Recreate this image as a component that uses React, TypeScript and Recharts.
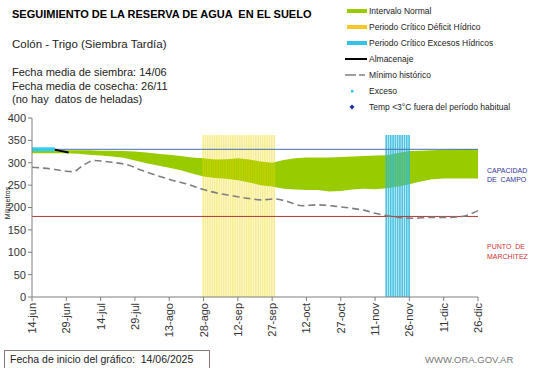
import { ComposedChart, Area, Bar, Line, XAxis, YAxis, ReferenceLine } from "recharts";

// days counted from 14-jun
const xTickDays = [0, 15, 30, 45, 60, 75, 90, 105, 120, 135, 150, 165, 180, 195];
const xTickLabels = ["14-jun", "29-jun", "14-jul", "29-jul", "13-ago", "28-ago", "12-sep", "27-sep", "12-oct", "27-oct", "11-nov", "26-nov", "11-dic", "26-dic"];
const yTicks = [0, 50, 100, 150, 200, 250, 300, 350, 400];

const bandDays = [0, 5, 10, 15, 20, 25, 30, 35, 40, 45, 50, 55, 60, 65, 70, 75, 80, 85, 90, 95, 100, 105, 110, 115, 120, 125, 130, 135, 140, 145, 150, 155, 160, 165, 170, 175, 180, 185, 190, 195];
const bandUpper = [331, 330, 329, 328, 328, 328, 327, 327, 326, 325, 323, 320, 318, 315, 312, 310, 307, 308, 310, 307, 303, 300, 306, 310, 312, 312, 312, 313, 314, 315, 316, 317, 322, 326, 327, 328, 329, 330, 331, 331];
const bandLower = [321, 321, 321, 321, 320, 318, 316, 314, 311, 305, 299, 294, 289, 283, 276, 269, 266, 264, 261, 256, 250, 247, 242, 240, 239, 239, 236, 237, 240, 242, 241, 243, 247, 252, 258, 263, 265, 265, 265, 265];

const minDays = [0, 5, 10, 15, 18, 22, 27, 35, 42, 48, 55, 62, 68, 75, 82, 90, 95, 100, 106, 112, 118, 125, 132, 140, 146, 150, 155, 160, 166, 175, 182, 188, 195];
const minValues = [290, 288, 285, 281, 280, 293, 305, 301, 295, 283, 271, 260, 252, 240, 231, 224, 220, 217, 219, 213, 204, 206, 203, 198, 193, 187, 182, 178, 176, 178, 178, 180, 193];

const almDays = [0, 5, 10, 13, 16];
const almValues = [330, 330, 329, 326, 323];

const excesoDays = [0, 10];
const excesoValues = [330, 330];

const deficitDays = [75, 76, 77, 78, 79, 80, 81, 82, 83, 84, 85, 86, 87, 88, 89, 90, 91, 92, 93, 94, 95, 96, 97, 98, 99, 100, 101, 102, 103, 104, 105, 106];
const excesoCritDays = [155, 156, 157, 158, 159, 160, 161, 162, 163, 164, 165];
const criticalTop = 362;

const capacidad = 330;
const marchitez = 180;

const rows = new Map<number, any>();
const put = (d: number, k: string, v: any) => {
  const r = rows.get(d) ?? { day: d };
  r[k] = v;
  rows.set(d, r);
};
bandDays.forEach((d, i) => put(d, "band", [bandLower[i], bandUpper[i]]));
minDays.forEach((d, i) => put(d, "min", minValues[i]));
almDays.forEach((d, i) => put(d, "alm", almValues[i]));
excesoDays.forEach((d, i) => put(d, "exceso", excesoValues[i]));
deficitDays.forEach((d) => put(d, "deficit", criticalTop));
excesoCritDays.forEach((d) => put(d, "excCrit", criticalTop));
const data = [...rows.values()].sort((a, b) => a.day - b.day);

const font = "Arial, 'Liberation Sans', sans-serif";
const pre = { whiteSpace: "pre" as const };

function DateTick({ x, y, payload }: any) {
  const i = xTickDays.indexOf(payload.value);
  return (
    <text
      x={0}
      y={0}
      transform={`translate(${x + 4},${y}) rotate(-90)`}
      textAnchor="end"
      fontSize={11}
      fill="#333"
      fontFamily={font}
    >
      {xTickLabels[i]}
    </text>
  );
}

function LegendBox() {
  const tx = 369;
  const items = [
    { y: 11, label: "Intervalo Normal" },
    { y: 27, label: "Periodo Crítico Déficit Hídrico" },
    { y: 43, label: "Periodo Crítico Excesos Hídricos" },
    { y: 59, label: "Almacenaje" },
    { y: 75, label: "Mínimo histórico" },
    { y: 91, label: "Exceso" },
    { y: 107, label: "Temp <3°C fuera del período habitual" },
  ];
  return (
    <svg width={541} height={120} style={{ position: "absolute", left: 0, top: 0 }}>
      <rect x={347} y={9} width={20} height={4} fill="#99cc00" />
      <rect x={347} y={25} width={20} height={4} fill="#f7c72a" />
      <rect x={347} y={41} width={20} height={4} fill="#33c3e8" />
      <line x1={345} x2={367} y1={59} y2={59} stroke="#000" strokeWidth={2} />
      <line x1={345} x2={356} y1={75} y2={75} stroke="#808080" strokeWidth={1.5} />
      <line x1={359} x2={365} y1={75} y2={75} stroke="#808080" strokeWidth={1.5} />
      <rect x={351} y={90} width={2.5} height={2.5} fill="#33c3e8" />
      <polygon points="352,104.5 354.5,107 352,109.5 349.5,107" fill="#1f2f9f" />
      {items.map((it) => (
        <text key={it.label} x={tx} y={it.y + 3} fontSize={8.5} fill="#222" fontFamily={font}>
          {it.label}
        </text>
      ))}
    </svg>
  );
}

export default function App() {
  return (
    <div
      style={{
        position: "absolute",
        left: 0,
        top: 0,
        width: 541,
        height: 368,
        background: "#fff",
        fontFamily: font,
        overflow: "hidden",
      }}
    >
      <ComposedChart
        width={541}
        height={368}
        data={data}
        margin={{ top: 118, right: 63, bottom: 0, left: 2 }}
      >
        <XAxis
          dataKey="day"
          type="number"
          domain={[0, 195]}
          ticks={xTickDays}
          interval={0}
          height={71}
          tickSize={4}
          tickMargin={2}
          stroke="#7f7f7f"
          tick={<DateTick />}
        />
        <YAxis
          type="number"
          domain={[0, 400]}
          ticks={yTicks}
          interval={0}
          width={30}
          tickSize={4}
          tickMargin={2}
          stroke="#7f7f7f"
          tick={{ fontSize: 11, fill: "#333", fontFamily: font }}
        />
        <Area
          dataKey="band"
          type="linear"
          fill="#99cc00"
          fillOpacity={1}
          stroke="none"
          connectNulls
          isAnimationActive={false}
        />
        <Bar dataKey="deficit" stackId="crit" fill="#f0d800" fillOpacity={0.45} barSize={1.7} isAnimationActive={false} />
        <Bar dataKey="excCrit" stackId="crit" fill="#2bb8dc" fillOpacity={0.85} barSize={1.2} isAnimationActive={false} />
        <ReferenceLine y={capacidad} stroke="#4a6fb5" strokeWidth={1} />
        <ReferenceLine y={marchitez} stroke="#b03a3a" strokeWidth={1} />
        <Line
          dataKey="min"
          type="monotone"
          stroke="#7f7f7f"
          strokeWidth={1.6}
          strokeDasharray="7 4"
          dot={false}
          connectNulls
          isAnimationActive={false}
        />
        <Line dataKey="alm" type="linear" stroke="#000" strokeWidth={2} dot={false} connectNulls isAnimationActive={false} />
        <Line dataKey="exceso" type="linear" stroke="#33ccee" strokeWidth={4} dot={false} connectNulls isAnimationActive={false} />
      </ComposedChart>

      <svg width={541} height={368} style={{ position: "absolute", left: 0, top: 0, pointerEvents: "none" }}>
        <text x={12} y={18} fontSize={11} fontWeight="bold" fill="#000" fontFamily={font} style={pre}>
          SEGUIMIENTO DE LA RESERVA DE AGUA  EN EL SUELO
        </text>
        <text x={12} y={48} fontSize={11.5} fill="#222" fontFamily={font}>
          Colón - Trigo (Siembra Tardía)
        </text>
        <text x={12} y={76} fontSize={11} fill="#222" fontFamily={font}>
          Fecha media de siembra: 14/06
        </text>
        <text x={12} y={90} fontSize={11} fill="#222" fontFamily={font}>
          Fecha media de cosecha: 26/11
        </text>
        <text x={12} y={103} fontSize={11} fill="#222" fontFamily={font} style={pre}>
          (no hay  datos de heladas)
        </text>
        <text
          transform="translate(10,203) rotate(-90)"
          textAnchor="middle"
          fontSize={7}
          fill="#222"
          fontFamily={font}
        >
          Milímetros
        </text>
        <text x={487} y={172.5} fontSize={7} fill="#333399" fontFamily={font}>CAPACIDAD</text>
        <text x={487} y={181.5} fontSize={7} fill="#333399" fontFamily={font} style={pre}>DE  CAMPO</text>
        <text x={487} y={248.5} fontSize={7} fill="#cc3333" fontFamily={font} style={pre}>PUNTO  DE</text>
        <text x={487} y={258.5} fontSize={7} fill="#cc3333" fontFamily={font}>MARCHITEZ</text>
        <rect x={4.5} y={350.5} width={205} height={18} fill="none" stroke="#8b7474" strokeWidth={1} />
        <text x={10} y={363} fontSize={10.5} fill="#222" fontFamily={font} style={pre}>
          Fecha de inicio del gráfico:  14/06/2025
        </text>
        <text x={425} y={363} fontSize={9.5} fill="#777" fontFamily={font}>
          WWW.ORA.GOV.AR
        </text>
      </svg>
      <LegendBox />
    </div>
  );
}
